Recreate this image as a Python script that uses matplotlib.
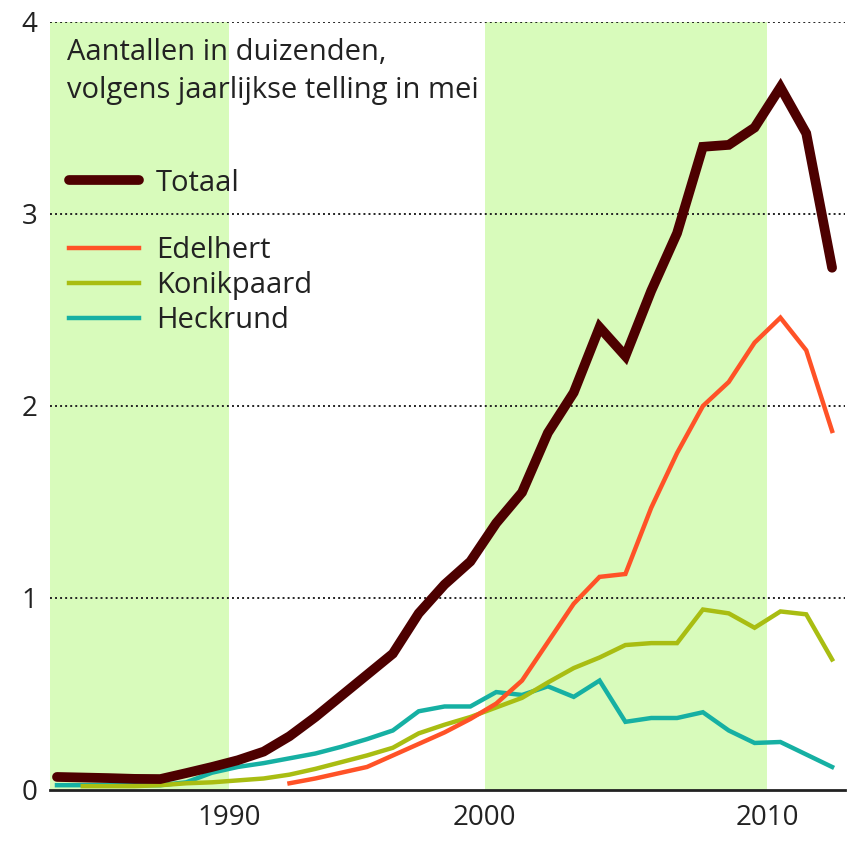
import matplotlib
matplotlib.use("Agg")
import matplotlib.pyplot as plt
from matplotlib.lines import Line2D

plt.rcParams["font.family"] = ["Open Sans", "DejaVu Sans"]

# ---------- Data (thousands of animals, May counts) ----------
years = list(range(1983, 2014))

totaal = [0.068, 0.065, 0.062, 0.058, 0.057, 0.088, 0.12, 0.155, 0.20, 0.28,
          0.38, 0.49, 0.60, 0.71, 0.92, 1.07, 1.19, 1.39, 1.55, 1.86,
          2.07, 2.41, 2.26, 2.60, 2.90, 3.35, 3.36, 3.45, 3.66, 3.42, 2.72]

edel_years = list(range(1992, 2014))
edelhert = [0.035, 0.06, 0.09, 0.12, 0.18, 0.24, 0.30, 0.37, 0.45, 0.57,
            0.77, 0.97, 1.11, 1.125, 1.47, 1.755, 2.00, 2.125, 2.33, 2.46, 2.29, 1.87]

konik_years = list(range(1984, 2014))
konikpaard = [0.02, 0.02, 0.02, 0.025, 0.035, 0.04, 0.05, 0.06, 0.08, 0.11,
              0.145, 0.18, 0.22, 0.295, 0.34, 0.38, 0.43, 0.48, 0.56, 0.635,
              0.69, 0.755, 0.765, 0.765, 0.94, 0.92, 0.845, 0.93, 0.915, 0.68]

heckrund = [0.025, 0.025, 0.025, 0.025, 0.025, 0.04, 0.09, 0.12, 0.14, 0.165,
            0.19, 0.225, 0.265, 0.31, 0.41, 0.435, 0.435, 0.51, 0.495, 0.54,
            0.485, 0.57, 0.355, 0.375, 0.375, 0.405, 0.31, 0.245, 0.25, 0.185, 0.12]

# shaded decades as drawn in the original (edges are a bit off the year grid)
bands = [(1982.7, 1989.65), (1999.55, 2010.5)]
tick_labels = ["1990", "2000", "2010"]
tick_pos = [bands[0][1], bands[1][0], bands[1][1]]

C_TOT = "#4d0000"
C_EDEL = "#ff5227"
C_KONIK = "#a9bd12"
C_HECK = "#16b0a3"
C_BAND = "#d8fbbb"
C_TXT = "#222222"

# ---------- Plot ----------
fig = plt.figure(figsize=(8.55, 8.42), dpi=100)
ax = fig.add_axes([50 / 855, 1 - 790 / 842, 795 / 855, 768 / 842])

for a, b in bands:
    ax.axvspan(a, b, color=C_BAND, lw=0, zorder=0)

for y in [1, 2, 3, 4]:
    ax.axhline(y, color=C_TXT, lw=1.4, ls=(0, (1, 1.6)), zorder=1)

ax.plot(years, heckrund, color=C_HECK, lw=3.2, solid_joinstyle="miter", zorder=3)
ax.plot(konik_years, konikpaard, color=C_KONIK, lw=3.2, solid_joinstyle="miter", zorder=3)
ax.plot(edel_years, edelhert, color=C_EDEL, lw=3.2, solid_joinstyle="miter", zorder=4)
ax.plot(years, totaal, color=C_TOT, lw=7, solid_capstyle="round",
        solid_joinstyle="miter", zorder=5)

ax.set_xlim(1982.73, 2013.5)
ax.set_ylim(0, 4)
ax.set_xticks(tick_pos)
ax.set_xticklabels(tick_labels)
ax.set_yticks([0, 1, 2, 3, 4])
ax.set_yticklabels(["0", "1", "2", "3", "4"])
ax.tick_params(axis="x", length=0, pad=10, labelsize=20, colors=C_TXT)
ax.tick_params(axis="y", length=0, pad=9, labelsize=20, colors=C_TXT)
for s in ["left", "right", "top"]:
    ax.spines[s].set_visible(False)
ax.spines["bottom"].set_linewidth(2)
ax.spines["bottom"].set_color(C_TXT)

ax.text(0.021, 0.979, "Aantallen in duizenden,\nvolgens jaarlijkse telling in mei",
        transform=ax.transAxes, ha="left", va="top", fontsize=21,
        color=C_TXT, linespacing=1.42)

leg1 = ax.legend([Line2D([], [], color=C_TOT, lw=7, solid_capstyle="round")], ["Totaal"],
                 loc="upper left", bbox_to_anchor=(0.005, 0.828), frameon=False,
                 fontsize=21, handlelength=2.4, handletextpad=0.6, borderpad=0,
                 labelcolor=C_TXT)
ax.add_artist(leg1)
ax.legend([Line2D([], [], color=C_EDEL, lw=3.2),
           Line2D([], [], color=C_KONIK, lw=3.2),
           Line2D([], [], color=C_HECK, lw=3.2)],
          ["Edelhert", "Konikpaard", "Heckrund"],
          loc="upper left", bbox_to_anchor=(0.005, 0.740), frameon=False,
          fontsize=21, handlelength=2.4, handletextpad=0.6, borderpad=0,
          labelspacing=0.2, labelcolor=C_TXT)

fig.savefig("out.png", dpi=100, facecolor="white")
